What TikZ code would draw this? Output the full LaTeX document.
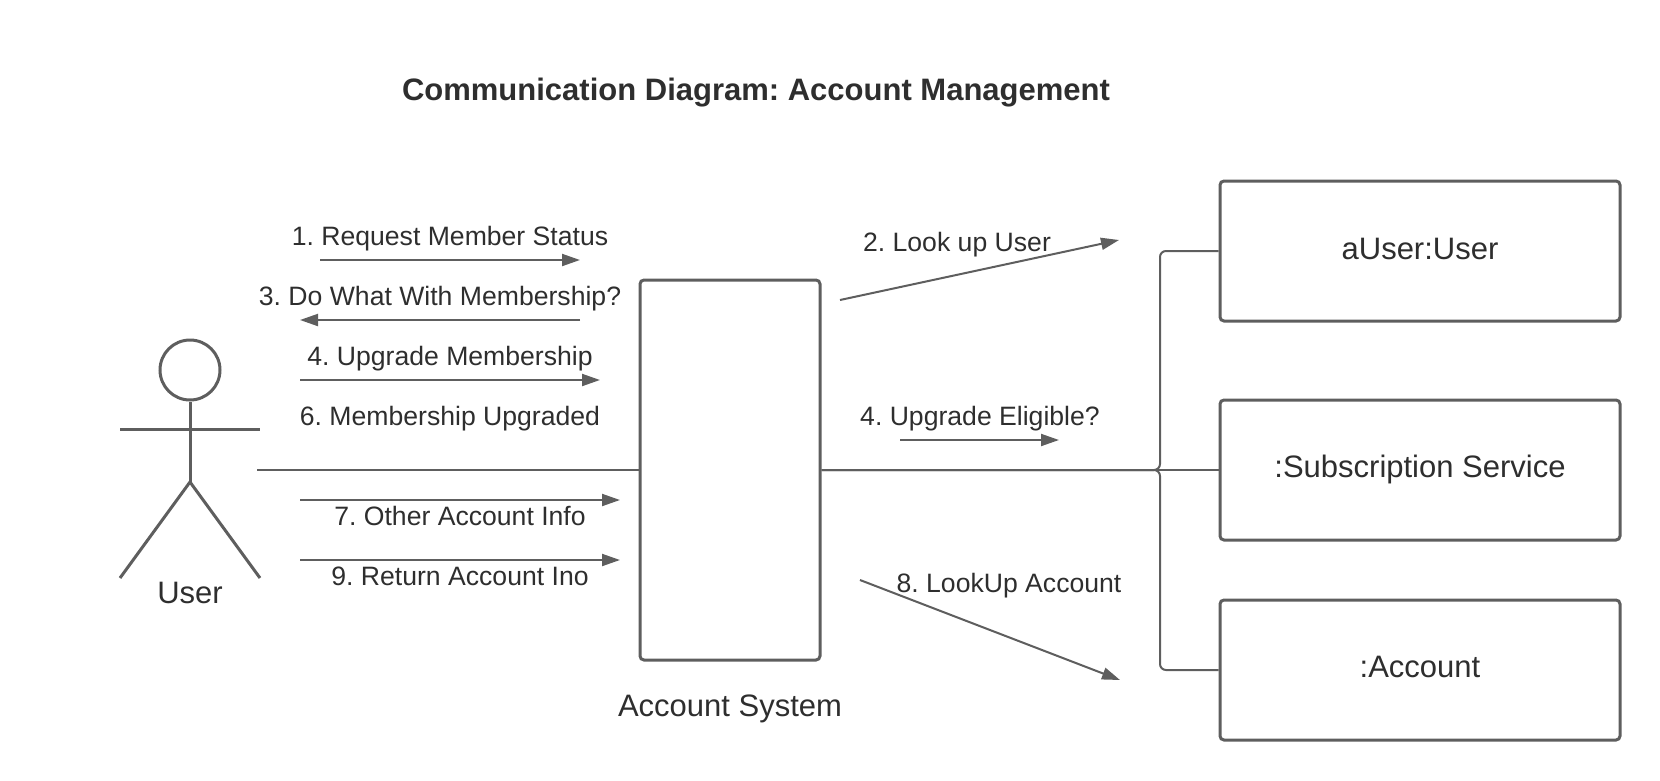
\documentclass[tikz,border=0pt]{standalone}
\usepackage{fontspec}
\setmainfont{Liberation Sans}
\usetikzlibrary{arrows.meta}
\definecolor{ln}{RGB}{94, 94, 94}
\definecolor{tx}{RGB}{46, 46, 46}
\tikzset{
  msg/.style={line width=2pt, color=ln, -{Triangle[length=18pt, width=12pt]}},
  conn/.style={line width=2pt, color=ln, rounded corners=6pt},
  actor/.style={line width=3pt, color=ln},
  obj/.style={rectangle, rounded corners=4pt, line width=3pt, draw=ln, fill=white, inner sep=0pt},
  lbl/.style={anchor=base, inner sep=0pt, color=tx, font=\fontsize{26.6pt}{30pt}\selectfont},
  bigname/.style={anchor=base, inner sep=0pt, color=tx, font=\fontsize{31pt}{36pt}\selectfont}
}

\begin{document}
\frenchspacing
\begin{tikzpicture}
\useasboundingbox (0pt, 0pt) rectangle (1660pt, -780pt);
\node (title) [anchor=base, inner sep=0pt, color=tx, font=\fontsize{31pt}{38pt}\selectfont\bfseries] at (756pt, -100pt) {Communication Diagram: Account Management};
% stick figure
\node (head) [circle, minimum size=60pt, inner sep=0pt, line width=3pt, draw=ln] at (190pt, -370pt) {};
\coordinate (armL) at (120pt, -429pt);
\coordinate (armR) at (260pt, -429pt);
\coordinate (hip) at (190pt, -482pt);
\coordinate (footL) at (120pt, -578pt);
\coordinate (footR) at (260pt, -578pt);
\draw [actor] (head) -- (hip);
\draw [actor] (armL) -- (armR);
\draw [actor] (footL) -- (hip) -- (footR);
\node (user) [bigname] at (190pt, -603pt) {User};
% boxes
\node (sys) [obj, minimum width=180pt, minimum height=380pt] at (730pt, -470pt) {};
\node (aUser) [obj, minimum width=400pt, minimum height=140pt] at (1420pt, -251pt) {};
\node (subs) [obj, minimum width=400pt, minimum height=140pt] at (1420pt, -470pt) {};
\node (acct) [obj, minimum width=400pt, minimum height=140pt] at (1420pt, -670pt) {};
\node (sysT) [bigname] at (730pt, -716pt) {Account System};
\node (aUserT) [bigname] at (1420pt, -259pt) {aUser:User};
\node (subsT) [bigname] at (1420pt, -477pt) {:Subscription Service};
\node (acctT) [bigname] at (1420pt, -677pt) {:Account};
% connectors
\coordinate (lineU) at (257pt, -470pt);
\coordinate (trunkT) at (1160pt, -251pt);
\coordinate (trunkM) at (1160pt, -470pt);
\coordinate (trunkB) at (1160pt, -670pt);
\draw [conn] (lineU) -- (sys.west);
\draw [conn] (sys.east) -- (subs.west);
\draw [conn] (sys.east) -- (trunkM) -- (trunkT) -- (aUser.west);
\draw [conn] (sys.east) -- (trunkM) -- (trunkB) -- (acct.west);
% messages on the left
\coordinate (m1a) at (320pt, -260pt);
\coordinate (m1b) at (580pt, -260pt);
\coordinate (m3a) at (580pt, -320pt);
\coordinate (m3b) at (300pt, -320pt);
\coordinate (m4a) at (300pt, -380pt);
\coordinate (m4b) at (600pt, -380pt);
\coordinate (m7a) at (300pt, -500pt);
\coordinate (m7b) at (620pt, -500pt);
\coordinate (m9a) at (300pt, -560pt);
\coordinate (m9b) at (620pt, -560pt);
\draw [msg] (m1a) -- (m1b);
\draw [msg] (m3a) -- (m3b);
\draw [msg] (m4a) -- (m4b);
\draw [msg] (m7a) -- (m7b);
\draw [msg] (m9a) -- (m9b);
\node (t1) [lbl] at (450pt, -245pt) {1. Request Member Status};
\node (t3) [lbl] at (440pt, -305pt) {3. Do What With Membership?};
\node (t4) [lbl] at (450pt, -365pt) {4. Upgrade Membership};
\node (t6) [lbl] at (450pt, -425pt) {6. Membership Upgraded};
\node (t7) [lbl] at (460pt, -525pt) {7. Other Account Info};
\node (t9) [lbl] at (460pt, -585pt) {9. Return Account Ino};
% messages on the right
\coordinate (m2a) at (840pt, -300pt);
\coordinate (m2b) at (1119pt, -240pt);
\coordinate (m5a) at (900pt, -440pt);
\coordinate (m5b) at (1059pt, -440pt);
\coordinate (m8a) at (860pt, -580pt);
\coordinate (m8b) at (1120pt, -680pt);
\draw [msg] (m2a) -- (m2b);
\draw [msg] (m5a) -- (m5b);
\draw [msg] (m8a) -- (m8b);
\node (t2) [lbl] at (957pt, -251pt) {2. Look up User};
\node (t5) [lbl] at (980pt, -425pt) {4. Upgrade Eligible?};
\node (t8) [lbl] at (1009pt, -592pt) {8. LookUp Account};
\end{tikzpicture}
\end{document}
